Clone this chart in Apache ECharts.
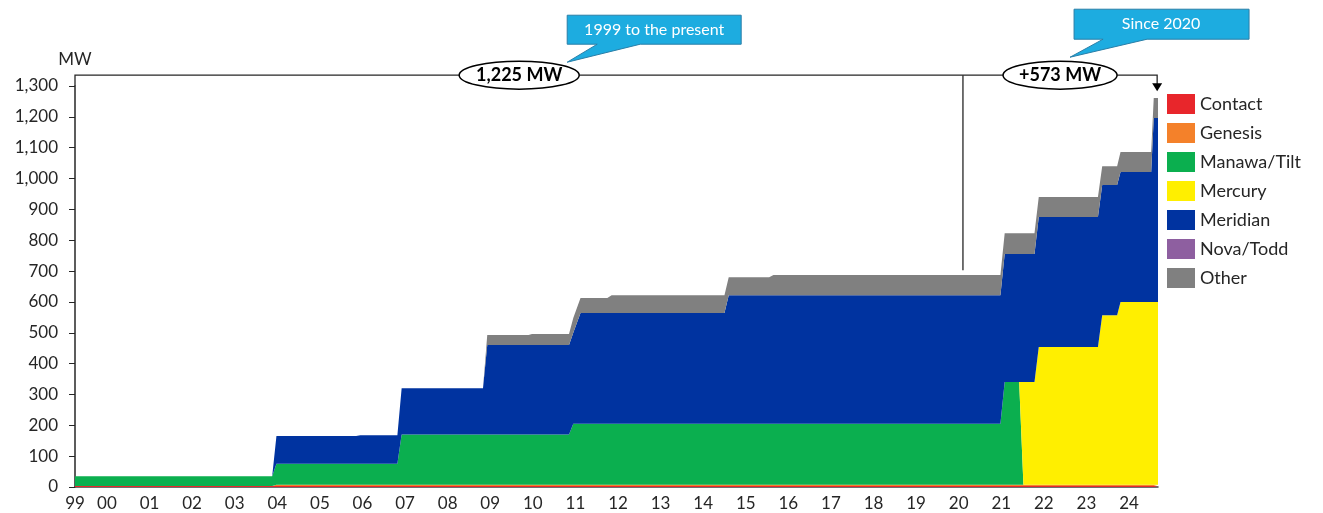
<!DOCTYPE html>
<html>
<head>
<meta charset="utf-8">
<script src="https://cdn.jsdelivr.net/npm/echarts@6/dist/echarts.min.js"></script>
<style>
  html, body { margin: 0; padding: 0; background: #fff; }
  #chart { width: 1323px; height: 513px; }
</style>
</head>
<body>
<div id="chart"></div>
<script>
// time of each point, in years (steps drawn as short ramps, like the original)
var times = [1999.25, 2003.88, 2003.98, 2005.85, 2005.95, 2006.82, 2006.92, 2008.83, 2008.93,
  2009.9, 2009.98, 2010.85, 2010.95, 2011.12, 2011.75, 2011.85, 2014.5, 2014.6, 2015.55,
  2015.65, 2020.98, 2021.08, 2021.42, 2021.52, 2021.78, 2021.88, 2023.27, 2023.37,
  2023.72, 2023.8, 2024.52, 2024.58, 2024.68];

var contact  = [3, 3, 3, 3, 3, 3, 3, 3, 3, 3, 3, 3, 3, 3, 3, 3, 3, 3, 3, 3, 3, 3, 3, 3, 3, 3, 3, 3, 3, 3, 3, 3, 3];
var genesis  = [0, 0, 4, 4, 4, 4, 4, 4, 4, 4, 4, 4, 4, 4, 4, 4, 4, 4, 4, 4, 4, 4, 4, 4, 4, 4, 4, 4, 4, 4, 4, 4, 4];
var manawa   = [32, 32, 68, 68, 68, 68, 163, 163, 163, 163, 163, 163, 198, 198, 198, 198, 198, 198, 198, 198, 198, 333, 333, 0, 0, 0, 0, 0, 0, 0, 0, 0, 0];
var mercury  = [0, 0, 0, 0, 0, 0, 0, 0, 0, 0, 0, 0, 0, 0, 0, 0, 0, 0, 0, 0, 0, 0, 0, 333, 333, 447, 447, 550, 550, 593, 593, 593, 593];
var meridian = [0, 0, 90, 90, 93, 93, 150, 150, 290, 290, 290, 290, 295, 359, 359, 359, 359, 417, 417, 417, 417, 415, 415, 415, 415, 421, 421, 422, 422, 421, 421, 596, 596];
var nova     = [0, 0, 0, 0, 0, 0, 0, 0, 0, 0, 0, 0, 0, 0, 0, 0, 0, 0, 0, 0, 0, 0, 0, 0, 0, 0, 0, 0, 0, 0, 0, 0, 0];
var other    = [0, 0, 0, 0, 0, 0, 0, 0, 33, 33, 36, 36, 48, 49, 49, 58, 58, 58, 58, 65, 65, 68, 68, 68, 68, 65, 65, 61, 61, 65, 65, 65, 65];

var owners = ["Contact", "Genesis", "Manawa/Tilt", "Mercury", "Meridian", "Nova/Todd", "Other"];
var ownerValues = [contact, genesis, manawa, mercury, meridian, nova, other];
var colors = ["#E8262B", "#F4812A", "#0BAF4F", "#FFEF00", "#0033A0", "#8E5FA0", "#808080"];

var yearTicks = [1999.25, 2000, 2001, 2002, 2003, 2004, 2005, 2006, 2007, 2008, 2009, 2010, 2011,
  2012, 2013, 2014, 2015, 2016, 2017, 2018, 2019, 2020, 2021, 2022, 2023, 2024];
var yearLabels = ["99", "00", "01", "02", "03", "04", "05", "06", "07", "08", "09", "10", "11",
  "12", "13", "14", "15", "16", "17", "18", "19", "20", "21", "22", "23", "24"];

var totalText = "1,225 MW";
var recentText = "+573 MW";
var totalNote = "1999 to the present";
var recentNote = "Since 2020";

var font = "Lato, 'Open Sans', sans-serif";
var chart = echarts.init(document.getElementById("chart"));

// points are [MW, year] so the stack sums MW (first value dimension), x read from dim 1
var series = owners.map(function (name, i) {
  return {
    name: name,
    type: "line",
    stack: "mw",
    showSymbol: false,
    symbol: "none",
    encode: { x: 1, y: 0 },
    lineStyle: { width: 0 },
    itemStyle: { color: colors[i] },
    areaStyle: { color: colors[i], opacity: 1 },
    data: times.map(function (t, k) { return [ownerValues[i][k], t]; }),
  };
});

var option = {
  animation: false,
  backgroundColor: "#fff",
  textStyle: { fontFamily: font },
  grid: { left: 75, right: 165, top: 86, bottom: 26 },
  legend: {
    orient: "vertical",
    left: 1162,
    top: 89,
    icon: "rect",
    itemWidth: 28,
    itemHeight: 20,
    itemGap: 9,
    data: owners,
    textStyle: { fontFamily: font, fontSize: 18, color: "#262626" },
  },
  xAxis: {
    type: "value",
    min: 1999.25,
    max: 2024.68,
    splitLine: { show: false },
    axisLine: { lineStyle: { color: "#404040", width: 1.5 } },
    axisTick: { show: false },
    axisLabel: {
      customValues: yearTicks,
      fontFamily: font,
      fontSize: 17,
      color: "#262626",
      margin: 8,
      formatter: function (v) {
        var k = yearTicks.indexOf(v);
        return k >= 0 ? yearLabels[k] : "";
      },
    },
  },
  yAxis: {
    type: "value",
    min: 0,
    max: 1300,
    interval: 100,
    name: "MW",
    nameGap: 18,
    nameTextStyle: { fontFamily: font, fontSize: 17, color: "#262626", align: "center" },
    splitLine: { show: false },
    axisLine: { show: true, lineStyle: { color: "#262626", width: 1.5 } },
    axisTick: { show: true, length: 6, lineStyle: { color: "#262626" } },
    axisLabel: {
      fontFamily: font,
      fontSize: 17,
      color: "#262626",
      margin: 17,
      formatter: function (v) { return v.toLocaleString("en-US"); },
    },
  },
  series: series,
};
chart.setOption(option);

// annotation bracket, ellipses and callouts, placed from data coordinates
function px(x, y) { return chart.convertToPixel({ gridIndex: 0 }, [x, y]); }
var bracketY = px(1999.25, 1335)[1];
var left = px(1999.25, 1300);
var right = px(2024.66, 1283);
var mark2020 = px(2020.1, 703);
var e1 = px(2009.68, 1335);
var e2 = px(2022.38, 1335);

function callout(bx, by, w, h, baseA, baseB, tip) {
  return [[bx, by], [bx + w, by], [bx + w, by + h], [baseB, by + h], tip, [baseA, by + h], [bx, by + h]];
}

var graphics = [
  { type: "polyline", shape: { points: [[left[0], left[1]], [left[0], bracketY], [right[0], bracketY], [right[0], right[1] - 7]] },
    style: { stroke: "#262626", lineWidth: 1.3, fill: null }, z: 10 },
  { type: "polygon", shape: { points: [[right[0] - 5, right[1] - 8], [right[0] + 5, right[1] - 8], [right[0], right[1]]] },
    style: { fill: "#000" }, z: 10 },
  { type: "line", shape: { x1: mark2020[0], y1: bracketY, x2: mark2020[0], y2: mark2020[1] },
    style: { stroke: "#262626", lineWidth: 1.3 }, z: 10 },
  { type: "ellipse", shape: { cx: e1[0], cy: e1[1], rx: 60, ry: 14 },
    style: { fill: "#fff", stroke: "#000", lineWidth: 1.5 }, z: 11 },
  { type: "text", x: e1[0], y: e1[1], style: { text: totalText, font: "bold 18px " + font, fill: "#000", align: "center", verticalAlign: "middle" }, z: 12 },
  { type: "ellipse", shape: { cx: e2[0], cy: e2[1], rx: 57, ry: 14 },
    style: { fill: "#fff", stroke: "#000", lineWidth: 1.5 }, z: 11 },
  { type: "text", x: e2[0], y: e2[1], style: { text: recentText, font: "bold 18px " + font, fill: "#000", align: "center", verticalAlign: "middle" }, z: 12 },
  { type: "polygon", shape: { points: callout(e1[0] + 48, e1[1] - 60, 174, 29, e1[0] + 78, e1[0] + 121, [e1[0] + 48, e1[1] - 13]) },
    style: { fill: "#1DACE0", stroke: "#2A7FA8", lineWidth: 1 }, z: 11 },
  { type: "text", x: e1[0] + 48 + 87, y: e1[1] - 60 + 15, style: { text: totalNote, font: "16px " + font, fill: "#fff", align: "center", verticalAlign: "middle" }, z: 12 },
  { type: "polygon", shape: { points: callout(e2[0] + 14, e2[1] - 66, 175, 30, e2[0] + 43, e2[0] + 87, [e2[0] + 10, e2[1] - 18]) },
    style: { fill: "#1DACE0", stroke: "#2A7FA8", lineWidth: 1 }, z: 11 },
  { type: "text", x: e2[0] + 14 + 87, y: e2[1] - 66 + 15, style: { text: recentNote, font: "16px " + font, fill: "#fff", align: "center", verticalAlign: "middle" }, z: 12 },
];
chart.setOption({ graphic: graphics });
</script>
</body>
</html>
